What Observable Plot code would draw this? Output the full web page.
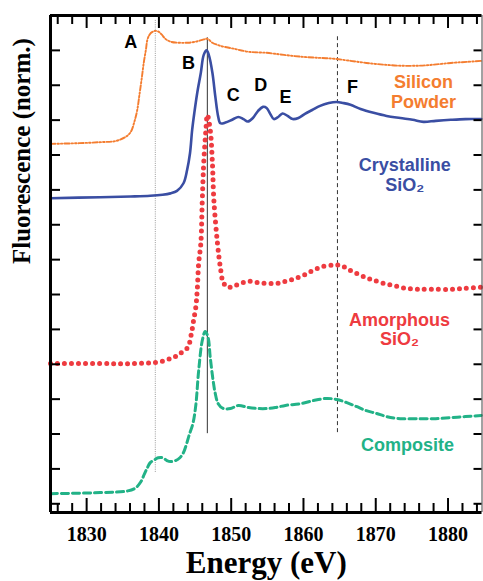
<!DOCTYPE html>
<html>
<head>
<meta charset="utf-8">
<script src="https://cdn.jsdelivr.net/npm/d3@7"></script>
<script src="https://cdn.jsdelivr.net/npm/@observablehq/plot@0.6"></script>
<style>
  html, body { margin: 0; padding: 0; background: #fff; }
</style>
</head>
<body>
<div id="chart"></div>
<script>
// ---- Data (energy in eV, normalized fluorescence with vertical offsets) ----
const siliconE = [1825.0,1829.0,1832.0,1834.0,1835.4,1836.1,1836.6,1837.0,1837.3,1837.6,1837.9,1838.2,1838.4,1838.7,1839.1,1839.5,1840.0,1840.4,1840.9,1841.6,1842.7,1844.0,1845.1,1846.0,1846.7,1847.4,1848.5,1850.3,1852.4,1854.9,1857.3,1859.6,1861.8,1864.2,1866.5,1868.7,1871.1,1873.4,1875.7,1878.0,1880.4,1882.6,1884.7];
const siliconV = [10.32,10.34,10.37,10.40,10.52,10.66,10.95,11.29,11.72,12.16,12.64,13.02,13.30,13.45,13.53,13.56,13.53,13.45,13.33,13.25,13.22,13.22,13.25,13.30,13.33,13.22,13.13,13.05,12.96,12.93,12.87,12.82,12.79,12.76,12.70,12.64,12.59,12.56,12.56,12.59,12.64,12.67,12.70];

const crystalE = [1825.0,1831.9,1836.1,1838.8,1840.5,1841.6,1842.5,1843.4,1843.9,1844.3,1844.6,1844.9,1845.3,1845.8,1846.2,1846.6,1846.9,1847.4,1847.8,1848.2,1848.5,1849.2,1850.2,1851.0,1851.7,1852.3,1853.0,1853.7,1854.4,1854.9,1855.4,1855.9,1856.5,1857.1,1857.8,1858.5,1859.3,1860.2,1861.2,1862.3,1863.5,1864.6,1865.5,1866.5,1867.9,1869.7,1871.5,1873.4,1875.1,1876.6,1878.3,1880.4,1882.4,1884.6];
const crystalV = [8.76,8.79,8.81,8.83,8.86,8.90,8.97,9.19,9.57,10.05,10.72,11.21,11.78,12.36,12.87,13.00,12.87,12.36,11.68,11.10,10.91,10.93,11.02,11.09,11.03,10.96,11.06,11.26,11.38,11.35,11.18,11.03,11.09,11.19,11.12,11.03,11.06,11.18,11.29,11.41,11.49,11.52,11.49,11.44,11.32,11.21,11.12,11.06,11.01,10.95,10.98,11.01,11.03,11.03];

const amorphE = [1825.0,1831.9,1836.1,1839.5,1840.9,1841.9,1842.6,1843.3,1844.0,1844.5,1844.8,1845.1,1845.3,1845.5,1845.8,1846.0,1846.2,1846.5,1846.7,1847.1,1847.4,1847.6,1848.1,1848.5,1848.9,1849.5,1850.3,1851.3,1852.4,1853.5,1854.8,1856.3,1857.5,1858.6,1860.0,1861.4,1862.8,1864.2,1865.1,1866.2,1867.3,1868.6,1869.7,1871.1,1872.5,1874.1,1875.7,1877.6,1880.4,1882.4,1884.6];
const amorphV = [4.02,4.02,4.02,4.05,4.11,4.20,4.25,4.37,4.48,4.89,5.26,5.63,6.12,6.90,7.47,8.71,9.77,10.72,11.15,10.72,9.77,8.71,7.47,6.78,6.35,6.21,6.24,6.32,6.38,6.35,6.32,6.32,6.38,6.44,6.55,6.70,6.81,6.84,6.84,6.72,6.61,6.49,6.41,6.32,6.26,6.18,6.15,6.15,6.15,6.18,6.21];

const compE = [1825.0,1831.9,1835.7,1836.8,1837.5,1838.0,1838.4,1838.8,1839.4,1839.9,1840.5,1841.1,1841.6,1842.3,1842.9,1843.4,1843.8,1844.2,1844.7,1845.1,1845.5,1846.0,1846.4,1846.8,1847.1,1847.5,1847.8,1848.2,1848.9,1849.9,1851.0,1852.4,1853.8,1854.9,1856.1,1857.5,1859.6,1861.4,1863.2,1864.6,1866.0,1867.3,1868.7,1870.1,1871.5,1873.4,1876.2,1878.3,1880.4,1882.4,1884.6];
const compV = [0.29,0.32,0.37,0.46,0.63,0.86,1.03,1.18,1.26,1.32,1.32,1.24,1.21,1.24,1.32,1.47,1.70,1.98,2.30,2.82,3.82,4.68,4.94,4.77,4.20,3.53,3.16,2.87,2.73,2.73,2.82,2.76,2.73,2.73,2.76,2.82,2.87,2.96,3.02,2.99,2.90,2.79,2.67,2.59,2.50,2.44,2.44,2.44,2.47,2.50,2.53];

// Reference energies (vertical guide lines) and their extents
const refE = [1839.5, 1846.7, 1864.7];
const refTop = [13.88, 13.36, 13.39];
const refBottom = [0.90, 2.01, 2.04];

// Peak letters
const peakNames = ["A", "B", "C", "D", "E", "F"];
const peakE = [1836.1, 1844.1, 1850.3, 1854.1, 1857.5, 1866.8];
const peakV = [13.22, 12.64, 11.72, 12.01, 11.67, 11.95];

// Series labels
const seriesNames = ["Silicon\nPowder", "Crystalline\nSiO\u2082", "Amorphous\nSiO\u2082", "Composite"];
const seriesLabelE = [1876.6, 1874.0, 1873.3, 1874.4];
const seriesLabelV = [11.81, 9.43, 5.01, 1.70];

// Axis ticks
const xMajor = d3.range(1830, 1881, 10);
const xMinor = d3.range(1826, 1885, 2).filter(d => d % 10 !== 0);
const yTicks = d3.range(0, 14);
const xDomain = [1825, 1884.7];
const yDomain = [-0.25, 14];

// ---- Build tables ----
const toRows = (E, V) => E.map((e, i) => ({e, v: V[i]}));
const silicon = toRows(siliconE, siliconV);
const crystal = toRows(crystalE, crystalV);
const amorph = toRows(amorphE, amorphV);
const comp = toRows(compE, compV);
const refs = refE.map((e, i) => ({e, top: refTop[i], bottom: refBottom[i]}));
const peaks = peakNames.map((t, i) => ({t, e: peakE[i], v: peakV[i]}));
const sLabels = seriesNames.map((t, i) => ({t, e: seriesLabelE[i], v: seriesLabelV[i]}));

const W = 483, H = 581, mL = 50, mR = 1.5, mT = 15, mB = 69;
const plotW = W - mL - mR, plotH = H - mT - mB;

const colors = {silicon: "#f47d30", crystal: "#3a4ea3", amorph: "#ee3b40", comp: "#22b287"};
const sans = "'Liberation Sans', Arial, sans-serif";
const serif = "'Liberation Serif', 'Times New Roman', serif";

const chart = Plot.plot({
  width: W, height: H,
  marginLeft: mL, marginRight: mR, marginTop: mT, marginBottom: mB,
  x: {domain: xDomain, axis: null},
  y: {domain: yDomain, axis: null},
  style: {background: "#fff", fontFamily: serif, overflow: "visible"},
  marks: [
    // guide lines
    Plot.ruleX([refs[0]], {x: "e", y1: "bottom", y2: "top", stroke: "#9a9a9a", strokeWidth: 1, strokeDasharray: "1 1.2"}),
    Plot.ruleX([refs[1]], {x: "e", y1: "bottom", y2: "top", stroke: "#333", strokeWidth: 1}),
    Plot.ruleX([refs[2]], {x: "e", y1: "bottom", y2: "top", stroke: "#333", strokeWidth: 1, strokeDasharray: "4 3"}),
    // curves
    Plot.line(silicon, {x: "e", y: "v", stroke: colors.silicon, strokeWidth: 1.9, strokeDasharray: "5 2 1.5 2 1.5 2", curve: "catmull-rom"}),
    Plot.line(crystal, {x: "e", y: "v", stroke: colors.crystal, strokeWidth: 2.6, curve: "catmull-rom"}),
    Plot.line(amorph, {x: "e", y: "v", stroke: colors.amorph, strokeWidth: 5, strokeDasharray: "0 7", strokeLinecap: "round", curve: "catmull-rom"}),
    Plot.line(comp, {x: "e", y: "v", stroke: colors.comp, strokeWidth: 3, strokeDasharray: "7 4", curve: "catmull-rom"}),
    // frame
    Plot.ruleX([xDomain[1]], {stroke: "#444", strokeWidth: 1}),
    Plot.ruleX([xDomain[0]], {stroke: "#000", strokeWidth: 3}),
    Plot.ruleY([yDomain[0]], {stroke: "#000", strokeWidth: 3}),
    Plot.ruleY([yDomain[1]], {stroke: "#000", strokeWidth: 3}),
    // x ticks (bottom, inward)
    Plot.tickX(xMajor, {x: d => d, insetTop: plotH - 14, stroke: "#000", strokeWidth: 2}),
    Plot.tickX(xMinor, {x: d => d, insetTop: plotH - 9, stroke: "#000", strokeWidth: 2}),
    // x ticks (top, inward)
    Plot.tickX(xMajor, {x: d => d, insetBottom: plotH - 13, stroke: "#000", strokeWidth: 2}),
    Plot.tickX(xMinor, {x: d => d, insetBottom: plotH - 9, stroke: "#000", strokeWidth: 2}),
    // y ticks
    Plot.tickY(yTicks, {y: d => d, insetRight: plotW - 10, stroke: "#000", strokeWidth: 2}),
    Plot.tickY(yTicks, {y: d => d, insetLeft: plotW - 8, stroke: "#000", strokeWidth: 2}),
    // tick labels
    Plot.text(xMajor, {x: d => d, text: d => String(d), frameAnchor: "bottom", lineAnchor: "top", dy: 14,
      fontSize: 20, fontWeight: "bold", fontFamily: serif, fill: "#000"}),
    // axis titles
    Plot.text(["Energy (eV)"], {frameAnchor: "bottom", lineAnchor: "middle", dy: 51,
      fontSize: 31, fontWeight: "bold", fontFamily: serif, fill: "#000"}),
    Plot.text(["Fluorescence (norm.)"], {frameAnchor: "left", lineAnchor: "middle", rotate: -90, dx: -29,
      fontSize: 25, fontWeight: "bold", fontFamily: serif, fill: "#000"}),
    // peak letters
    Plot.text(peaks, {x: "e", y: "v", text: "t", lineAnchor: "middle", fontSize: 18, fontWeight: "bold", fontFamily: sans, fill: "#000"}),
    // series labels
    Plot.text(sLabels, {x: "e", y: "v", text: "t", lineAnchor: "middle", lineHeight: 1.08, fontSize: 18, fontWeight: "bold", fontFamily: sans,
      fill: (d, i) => [colors.silicon, colors.crystal, colors.amorph, colors.comp][i]})
  ]
});
document.getElementById("chart").appendChild(chart);
</script>
</body>
</html>
